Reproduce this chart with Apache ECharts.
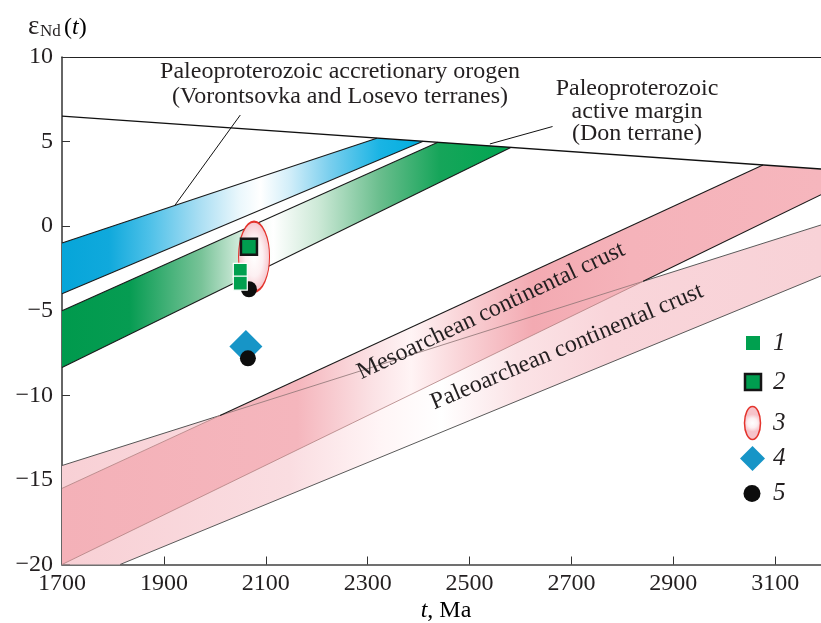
<!DOCTYPE html>
<html><head><meta charset="utf-8">
<script src="https://cdn.jsdelivr.net/npm/echarts@6/dist/echarts.min.js"></script>
<style>html,body{margin:0;padding:0;background:#fff}#c{width:821px;height:623px}</style>
</head><body><div id="c"></div>
<script>
// ---- axes ----
const xTicks = [1700, 1900, 2100, 2300, 2500, 2700, 2900, 3100];
const yTicks = [-20, -15, -10, -5, 0, 5, 10];
const xRange = [1700, 3190];
const yRange = [-20, 10];

// ---- evolution lines / bands (t, eNd) ----
const dmLine     = [[1700, 6.51], [3190, 3.38]];
const accrUpper  = [[1700, -1.0], [2318, 5.2]];
const accrLower  = [[1700, -4.0], [2409, 5.02]];
const donUpper   = [[1700, -5.0], [2438, 4.96]];
const donLower   = [[1700, -8.35], [2582, 4.66]];
const mesoUpper  = [[1700, -15.5], [3076, 3.62]];
const mesoLower  = [[1700, -20.0], [3190, 1.86]];
const paleoUpper = [[1700, -14.15], [3190, 0.07]];
const paleoLower = [[1814, -20.0], [3190, -2.94]];
const leaderAccr = [[2050, 6.57], [1922, 1.25]];
const leaderDon  = [[2663, 5.89], [2540, 4.86]];

// ---- samples ----
const sample1 = [[2050, -2.61], [2050, -3.37]];
const sample2 = [[2067, -1.21]];
const sample3 = [[2077, -1.80]];
const sample4 = [[2061, -7.12]];
const sample5 = [[2067, -3.73], [2065, -7.81]];
const legendLabels = ['1', '2', '3', '4', '5'];

const FONT = '"Liberation Serif", "Times New Roman", serif';
const G = echarts.graphic;

function cross(a, b) {
  const [x1, y1] = a[0], [x2, y2] = a[1], [x3, y3] = b[0], [x4, y4] = b[1];
  const d = (x1 - x2) * (y3 - y4) - (y1 - y2) * (x3 - x4);
  const t = ((x1 - x3) * (y3 - y4) - (y1 - y3) * (x3 - x4)) / d;
  return [x1 + t * (x2 - x1), y1 + t * (y2 - y1)];
}
const cMU = cross(mesoUpper, paleoUpper);
const cML = cross(mesoLower, paleoUpper);

function polySeries(pts, fill, z) {
  return {
    type: 'custom', z: z, silent: true, data: [[xRange[0], yRange[0]]],
    renderItem: function (params, api) {
      return { type: 'polygon', shape: { points: pts.map(p => api.coord(p)) }, style: { fill: fill, stroke: null } };
    }
  };
}
function lineSeries(pts, color, width, z) {
  return { type: 'line', data: pts, symbol: 'none', silent: true, z: z, animation: false,
    lineStyle: { color: color, width: width } };
}
function grad(stops) { return new G.LinearGradient(0, 0, 1, 0, stops.map(s => ({ offset: s[0], color: s[1] }))); }

const blueFill = grad([[0, '#06a5d9'], [0.13, '#10a9dc'], [0.24, '#4cc0e8'], [0.38, '#a9def3'], [0.49, '#eaf7fc'], [0.55, '#ffffff'], [0.63, '#d2eef9'], [0.74, '#7bcfee'], [0.88, '#1ab4e4'], [1, '#00aede']]);
const greenFill = grad([[0, '#009a4d'], [0.15, '#069c52'], [0.31, '#78c398'], [0.42, '#eaf6ee'], [0.47, '#ffffff'], [0.57, '#cde9d7'], [0.71, '#68bd8c'], [0.84, '#16a55a'], [1, '#00a651']]);
const mesoFill = grad([[0, '#f4b1b8'], [0.31, '#f5b6bd'], [0.41, '#fbe2e5'], [0.46, '#fff4f5'], [0.53, '#f9d2d6'], [0.62, '#f3aab2'], [0.75, '#f5b3ba'], [1, '#f6b6bd']]);
const paleoFill = grad([[0, '#f8d0d5'], [0.3, '#fadde1'], [0.42, '#fff5f6'], [0.5, '#ffffff'], [0.6, '#fbe3e6'], [0.72, '#f9d5da'], [1, '#f8d2d7']]);

const ellipseFill = new G.RadialGradient(0.5, 0.5, 0.5, [{ offset: 0, color: '#ffffff' }, { offset: 0.55, color: '#fdf0f2' }, { offset: 1, color: '#f6c3ca' }]);

const series = [
  polySeries([paleoUpper[0], paleoUpper[1], paleoLower[1], paleoLower[0], [xRange[0], yRange[0]]], paleoFill, 1),
  polySeries([mesoUpper[0], mesoUpper[1], dmLine[1], mesoLower[1], mesoLower[0]], mesoFill, 2),
  polySeries([accrUpper[0], accrUpper[1], accrLower[1], accrLower[0]], blueFill, 2),
  polySeries([donUpper[0], donUpper[1], donLower[1], donLower[0]], greenFill, 2),
  lineSeries(paleoLower, '#5a5a5a', 1, 3),
  lineSeries([paleoUpper[0], cMU], '#555555', 1, 3),
  lineSeries([cMU, cML], '#8c7474', 0.8, 3),
  lineSeries([cML, paleoUpper[1]], '#5a5a5a', 1, 3),
  lineSeries([mesoUpper[0], cMU], '#b08080', 0.8, 3),
  lineSeries([cMU, mesoUpper[1]], '#1a1a1a', 1.1, 3),
  lineSeries([mesoLower[0], cML], '#b08080', 0.8, 3),
  lineSeries([cML, mesoLower[1]], '#1a1a1a', 1.1, 3),
  lineSeries(accrUpper, '#1a1a1a', 1.1, 3),
  lineSeries(accrLower, '#1a1a1a', 1.1, 3),
  lineSeries(donUpper, '#1a1a1a', 1.1, 3),
  lineSeries(donLower, '#1a1a1a', 1.1, 3),
  lineSeries(dmLine, '#111111', 1.3, 4),
  lineSeries(leaderAccr, '#111111', 1, 4),
  lineSeries(leaderDon, '#111111', 1, 4),
  { type: 'scatter', data: sample3, symbol: 'circle', symbolSize: [31, 70], z: 5, silent: true,
    itemStyle: { color: ellipseFill, borderColor: '#e4342d', borderWidth: 1.5, opacity: 1 } },
  { type: 'scatter', data: sample4, symbol: 'diamond', symbolSize: [33, 33], z: 6, silent: true,
    itemStyle: { color: '#1795c7', opacity: 1 } },
  { type: 'scatter', data: sample5, symbol: 'circle', symbolSize: 16, z: 7, silent: true,
    itemStyle: { color: '#0d0d0d', opacity: 1 } },
  { type: 'scatter', data: sample2, symbol: 'rect', symbolSize: 16, z: 8, silent: true,
    itemStyle: { color: '#009d4f', borderColor: '#151515', borderWidth: 2.5, opacity: 1 } },
  { type: 'scatter', data: sample1, symbol: 'rect', symbolSize: 14, z: 9, silent: true,
    itemStyle: { color: '#00a04f', borderColor: '#ffffff', borderWidth: 1.2, opacity: 1 } }
];

// ---- legend (drawn) ----
const lgX = 753, lgY = [343, 382, 423, 458.5, 493.5];
const graphics = [
  { type: 'rect', shape: { x: lgX - 7, y: lgY[0] - 7, width: 14, height: 14 }, style: { fill: '#00a04f' }, z: 20 },
  { type: 'rect', shape: { x: lgX - 8, y: lgY[1] - 8, width: 16, height: 16 }, style: { fill: '#009d4f', stroke: '#151515', lineWidth: 2.5 }, z: 20 },
  { type: 'ellipse', shape: { cx: lgX - 0.5, cy: lgY[2], rx: 8, ry: 16.5 }, style: { fill: new G.RadialGradient(0.5, 0.5, 0.5, [{ offset: 0, color: '#fff' }, { offset: 0.55, color: '#fdf0f2' }, { offset: 1, color: '#f6c3ca' }]), stroke: '#e4342d', lineWidth: 1.5 }, z: 20 },
  { type: 'polygon', shape: { points: [[lgX - 0.5, lgY[3] - 12.5], [lgX + 12, lgY[3]], [lgX - 0.5, lgY[3] + 12.5], [lgX - 13, lgY[3]]] }, style: { fill: '#1795c7' }, z: 20 },
  { type: 'circle', shape: { cx: lgX - 1, cy: lgY[4], r: 8.5 }, style: { fill: '#0d0d0d' }, z: 20 }
];
legendLabels.forEach((t, i) => graphics.push({ type: 'text', x: 773, y: lgY[i], z: 20,
  style: { text: t, font: 'italic 25px ' + FONT, fill: '#231f20', align: 'left', verticalAlign: 'middle' } }));

// ---- annotation text ----
function txt(s, x, y, size, extra) {
  return Object.assign({ type: 'text', x: x, y: y, z: 20,
    style: { text: s, font: size + 'px ' + FONT, fill: '#231f20', align: 'center', verticalAlign: 'middle' } }, extra || {});
}
graphics.push(
  txt('Paleoproterozoic accretionary orogen', 340, 72, 24),
  txt('(Vorontsovka and Losevo terranes)', 340, 97, 24),
  txt('Paleoproterozoic', 637, 89, 24),
  txt('active margin', 637, 112, 24),
  txt('(Don terrane)', 637, 134, 24),
  txt('Mesoarchean continental crust', 491, 311, 24, { rotation: 25.3 * Math.PI / 180 }),
  txt('Paleoarchean continental crust', 567, 347, 24, { rotation: 22.8 * Math.PI / 180 }),
  { type: 'text', x: 446, y: 611, z: 20, style: { text: '{i|t}{r|, Ma}', align: 'center', verticalAlign: 'middle',
      rich: { i: { fontFamily: FONT, fontSize: 24, fontStyle: 'italic', color: '#231f20' },
              r: { fontFamily: FONT, fontSize: 24, color: '#231f20' } } } },
  { type: 'text', x: 28, y: 27, z: 20, style: { text: 'ε', font: '27px ' + FONT, fill: '#231f20', align: 'left', verticalAlign: 'middle' } },
  { type: 'text', x: 40, y: 32, z: 20, style: { text: 'Nd', font: '17px ' + FONT, fill: '#231f20', align: 'left', verticalAlign: 'middle' } },
  { type: 'text', x: 64, y: 28, z: 20, style: { text: '{r|(}{i|t}{r|)}', align: 'left', verticalAlign: 'middle',
      rich: { i: { fontFamily: FONT, fontSize: 24, fontStyle: 'italic', color: '#231f20' },
              r: { fontFamily: FONT, fontSize: 24, color: '#231f20' } } } }
);

const chart = echarts.init(document.getElementById('c'), null, { renderer: 'canvas' });
chart.setOption({
  animation: false,
  backgroundColor: '#ffffff',
  grid: { left: 62, right: 0, top: 57, bottom: 58.5, containLabel: false },
  xAxis: [
    { type: 'value', min: xRange[0], max: xRange[1], interval: 200, position: 'bottom',
      splitLine: { show: false },
      axisLine: { onZero: false, lineStyle: { color: '#707070', width: 2 } },
      axisTick: { inside: true, length: 8, customValues: xTicks, lineStyle: { color: '#333', width: 1 } },
      axisLabel: { customValues: xTicks, margin: 7, fontFamily: FONT, fontSize: 24, color: '#231f20',
        formatter: v => String(v) } },
    { type: 'value', min: xRange[0], max: xRange[1], position: 'top',
      splitLine: { show: false }, axisTick: { show: false }, axisLabel: { show: false },
      axisLine: { show: true, onZero: false, lineStyle: { color: '#222', width: 1.2 } } }
  ],
  yAxis: { type: 'value', min: yRange[0], max: yRange[1], interval: 5,
    splitLine: { show: false },
    axisLine: { show: true, onZero: false, lineStyle: { color: '#333', width: 1.5 } },
    axisTick: { show: true, inside: true, length: 8, customValues: yTicks, lineStyle: { color: '#333', width: 1 } },
    axisLabel: { customValues: yTicks, margin: 9, fontFamily: FONT, fontSize: 24, color: '#231f20',
      formatter: v => String(v).replace('-', '\u2212') } },
  series: series,
  graphic: graphics
});
</script></body></html>
